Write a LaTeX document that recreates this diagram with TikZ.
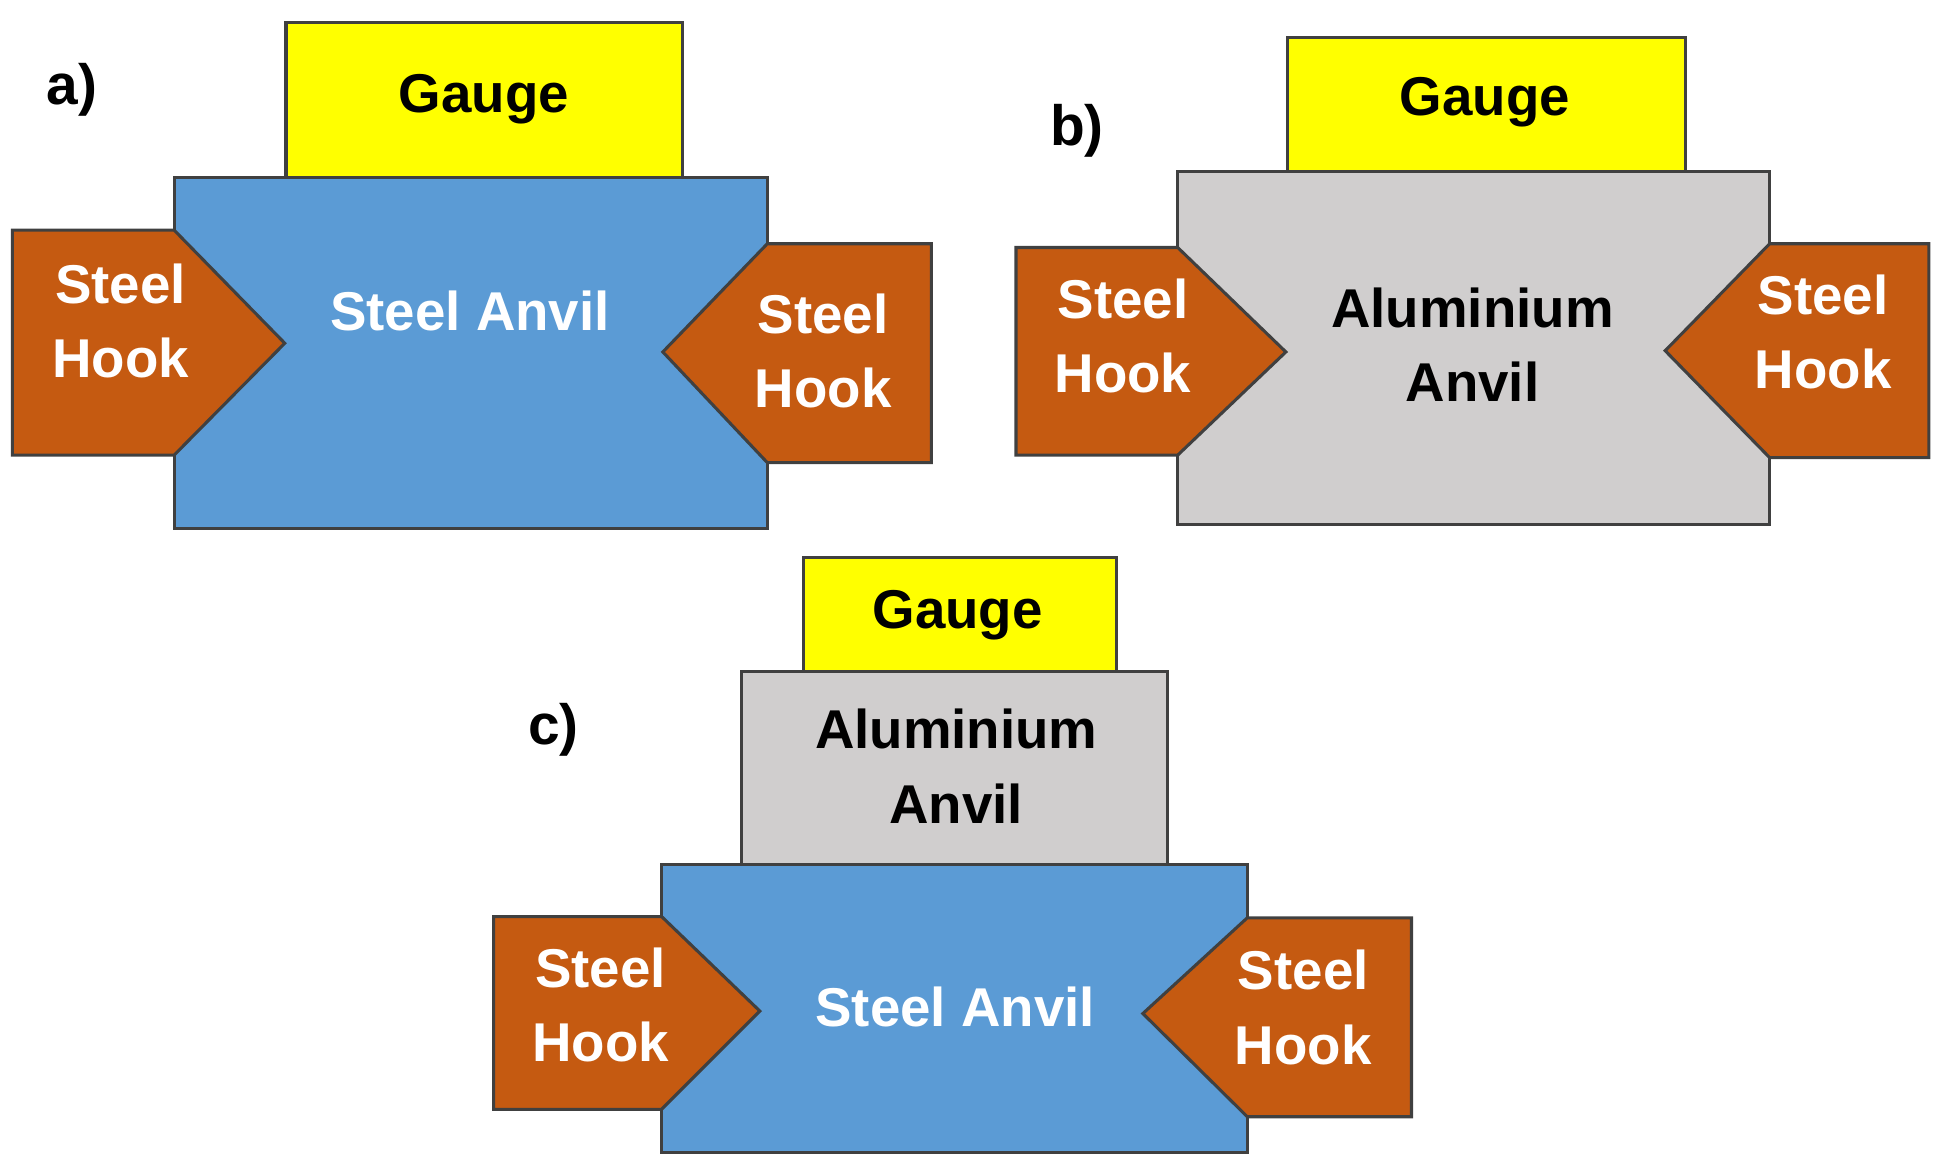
\documentclass[tikz,border=0pt]{standalone}
\usepackage{fontspec}
\setmainfont{Liberation Sans}
\definecolor{anvilblue}{HTML}{5B9BD5}
\definecolor{hookor}{HTML}{C55A11}
\definecolor{algrey}{HTML}{D0CECE}
\definecolor{gaugey}{HTML}{FFFF00}
\begin{document}
\begin{tikzpicture}[x=0.01cm,y=-0.01cm,
  part/.style={draw=black!75,line width=0.7pt,line join=miter},
  lbl/.style={font=\bfseries\fontsize{12.5}{17}\selectfont,align=center},
  wl/.style={lbl,text=white},
  tag/.style={font=\bfseries\fontsize{13}{15}\selectfont}]
\useasboundingbox (0,0) rectangle (1560,942);
% a)
\filldraw[part,fill=gaugey] (230,18) rectangle (549,143);
\filldraw[part,fill=anvilblue] (140,143) rectangle (617,425);
\filldraw[part,fill=hookor] (10,185) -- (140,185) -- (229,276) -- (140,366) -- (10,366) -- cycle;
\filldraw[part,fill=hookor] (749,196) -- (617,196) -- (533,283) -- (617,372) -- (749,372) -- cycle;
\node[lbl] (ga) at (389,80) {Gauge};
\node[wl] (aa) at (378,250) {Steel Anvil};
\node[wl] (hal) at (97,258) {Steel\\Hook};
\node[wl] (har) at (662,282) {Steel\\Hook};
\node[tag] (ta) at (58,72) {a)};
% b)
\filldraw[part,fill=gaugey] (1035,30) rectangle (1355,138);
\filldraw[part,fill=algrey] (947,138) rectangle (1423,422);
\filldraw[part,fill=hookor] (817,199) -- (947,199) -- (1034,283) -- (947,366) -- (817,366) -- cycle;
\filldraw[part,fill=hookor] (1551,196) -- (1423,196) -- (1339,282) -- (1423,368) -- (1551,368) -- cycle;
\node[lbl] (gb) at (1194,82) {Gauge};
\node[lbl] (ab) at (1184,277) {Aluminium\\Anvil};
\node[wl] (hbl) at (903,270) {Steel\\Hook};
\node[wl] (hbr) at (1466,267) {Steel\\Hook};
\node[tag] (tb) at (866,105) {b)};
% c)
\filldraw[part,fill=gaugey] (646,448) rectangle (898,540);
\filldraw[part,fill=algrey] (596,540) rectangle (939,695);
\filldraw[part,fill=anvilblue] (532,695) rectangle (1003,927);
\filldraw[part,fill=hookor] (397,737) -- (532,737) -- (611,813) -- (532,892) -- (397,892) -- cycle;
\filldraw[part,fill=hookor] (1135,738) -- (1003,738) -- (919,815) -- (1003,898) -- (1135,898) -- cycle;
\node[lbl] (gc) at (770,495) {Gauge};
\node[lbl] (alc) at (769,616) {Aluminium\\Anvil};
\node[wl] (ac) at (768,810) {Steel Anvil};
\node[wl] (hcl) at (483,808) {Steel\\Hook};
\node[wl] (hcr) at (1048,810) {Steel\\Hook};
\node[tag] (tc) at (445,587) {c)};
\end{tikzpicture}
\end{document}
